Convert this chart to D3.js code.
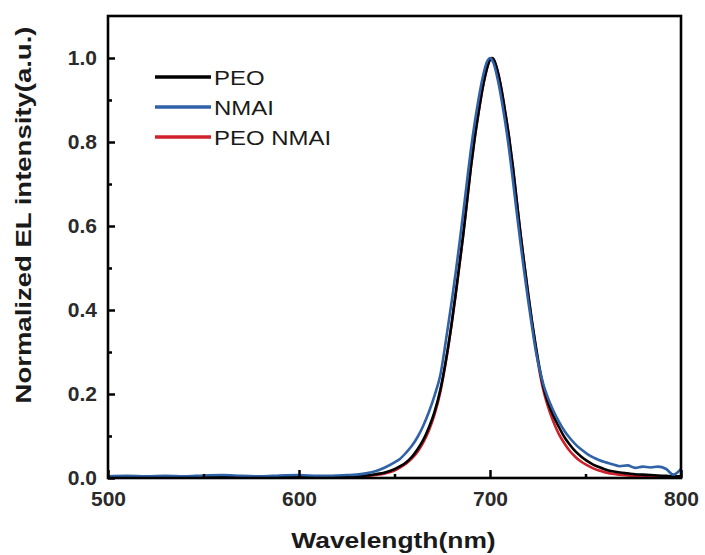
<!DOCTYPE html>
<html><head><meta charset="utf-8">
<script src="https://cdn.jsdelivr.net/npm/d3@7"></script>
<style>body{margin:0;background:#fff;} svg{display:block;font-family:"Liberation Sans",Arial,sans-serif;}</style>
</head><body><svg id="chart" width="705" height="555"></svg>
<script>
const wavelength = [500,510,520,530,540,550,560,570,580,590,600,610,620,
  625,630,635,640,645,650,653,656,659,662,665,668,671,674,677,680,
  682,684,686,688,690,692,694,696,698,700,
  701,
  702,704,706,708,710,712,714,716,718,720,722,724,726,728,730,
  733,736,739,742,745,748,751,754,757,760,764,768,772,776,780,784,788,792,796,800];
const peo = [0.002,0.002,0.002,0.002,0.002,0.002,0.002,0.002,0.002,0.003,0.003,0.002,0.002,
  0.003,0.004,0.006,0.009,0.013,0.021,0.028,0.037,0.05,0.068,0.09,0.12,0.158,0.21,0.282,0.37,
  0.437,0.508,0.58,0.66,0.74,0.81,0.87,0.925,0.968,0.996,
  1.0,
  0.996,0.968,0.925,0.87,0.81,0.74,0.66,0.58,0.508,0.437,0.372,0.313,0.26,0.216,0.185,
  0.15,0.122,0.097,0.078,0.062,0.05,0.04,0.032,0.026,0.021,0.016,0.013,0.011,0.009,0.008,0.007,0.006,0.005,0.004,0.004];
const nmai = [0.004,0.005,0.004,0.005,0.004,0.006,0.007,0.005,0.004,0.006,0.007,0.005,0.006,
  0.007,0.008,0.011,0.016,0.025,0.037,0.046,0.06,0.076,0.097,0.124,0.157,0.197,0.245,0.33,0.422,
  0.488,0.558,0.632,0.708,0.782,0.846,0.902,0.95,0.986,1.0,
  0.996,
  0.986,0.95,0.902,0.846,0.782,0.708,0.632,0.558,0.488,0.422,0.36,0.302,0.258,0.222,0.195,
  0.162,0.135,0.112,0.094,0.079,0.067,0.057,0.049,0.043,0.038,0.033,0.028,0.03,0.024,0.027,0.025,0.027,0.022,0.008,0.022];
const peoNmai = [0.001,0.002,0.001,0.002,0.001,0.002,0.001,0.002,0.001,0.002,0.002,0.001,0.001,
  0.002,0.003,0.004,0.007,0.011,0.018,0.025,0.034,0.046,0.062,0.084,0.113,0.152,0.205,0.28,0.37,
  0.437,0.508,0.58,0.66,0.74,0.81,0.87,0.925,0.968,0.996,
  1.0,
  0.996,0.968,0.925,0.87,0.81,0.74,0.66,0.58,0.508,0.437,0.37,0.31,0.252,0.208,0.175,
  0.136,0.105,0.082,0.063,0.049,0.038,0.03,0.023,0.018,0.014,0.01,0.008,0.006,0.005,0.004,0.004,0.003,0.003,0.002,0.002];
const seriesNames = ["PEO", "NMAI", "PEO NMAI"];
const seriesColors = ["#000000", "#2f62a6", "#d0202a"];
const xTicks = [500, 600, 700, 800];
const xMinor = [550, 650, 750];
const yTicks = [0, 0.2, 0.4, 0.6, 0.8, 1.0];
const yMinor = [0.1, 0.3, 0.5, 0.7, 0.9];

const svg = d3.select("#chart");
const L = 108, R = 681, T = 16, B = 478;
const x = d3.scaleLinear().domain([500, 800]).range([L, R]);
const y = d3.scaleLinear().domain([0, 1.1]).range([B, T]);

svg.append("defs").append("clipPath").attr("id", "clip")
  .append("rect").attr("x", L).attr("y", T).attr("width", R - L).attr("height", B - T);

const seriesData = [peo, nmai, peoNmai];
const line = d3.line().x(d => x(d[0])).y(d => y(d[1])).curve(d3.curveMonotoneX);
const drawOrder = [2, 0, 1];
const gLines = svg.append("g").attr("clip-path", "url(#clip)");
drawOrder.forEach(i => {
  const pts = wavelength.map((w, k) => [w, seriesData[i][k]]);
  gLines.append("path").datum(pts).attr("d", line)
    .attr("fill", "none").attr("stroke", seriesColors[i])
    .attr("stroke-width", 2.6).attr("stroke-linejoin", "round");
});

// axes
const xAxis = svg.append("g").attr("transform", `translate(0,${B})`)
  .call(d3.axisBottom(x).tickValues(xTicks).tickSizeInner(-8).tickSizeOuter(0).tickPadding(13).tickFormat(d3.format("d")));
const xAxisMinor = svg.append("g").attr("transform", `translate(0,${B})`)
  .call(d3.axisBottom(x).tickValues(xMinor).tickSizeInner(-4).tickSizeOuter(0).tickFormat(""));
const yAxis = svg.append("g").attr("transform", `translate(${L},0)`)
  .call(d3.axisLeft(y).tickValues(yTicks).tickSizeInner(-7).tickSizeOuter(0).tickPadding(11).tickFormat(d3.format(".1f")));
const yAxisMinor = svg.append("g").attr("transform", `translate(${L},0)`)
  .call(d3.axisLeft(y).tickValues(yMinor).tickSizeInner(-4).tickSizeOuter(0).tickFormat(""));
[xAxis, xAxisMinor, yAxis, yAxisMinor].forEach(g => {
  g.select(".domain").remove();
  g.selectAll(".tick line").attr("stroke", "#000").attr("stroke-width", 2.5);
  g.selectAll(".tick text").attr("font-size", 21).attr("font-weight", "bold").attr("fill", "#2a2a2a")
    .attr("font-family", '"Liberation Sans", Arial, sans-serif');
});

// frame
svg.append("rect").attr("x", L).attr("y", T).attr("width", R - L).attr("height", B - T)
  .attr("fill", "none").attr("stroke", "#000").attr("stroke-width", 2.6);

// titles
const xt = svg.append("text").attr("x", (L + R) / 2 - 1).attr("y", 548)
  .attr("text-anchor", "middle").attr("font-size", 22).attr("font-weight", "bold")
  .attr("fill", "#1a1a1a").text("Wavelength(nm)");
xt.attr("textLength", xt.node().getComputedTextLength() * 1.2).attr("lengthAdjust", "spacingAndGlyphs");

const yt = svg.append("text").attr("transform", "translate(31,215) rotate(-90)")
  .attr("text-anchor", "middle").attr("font-size", 22).attr("font-weight", "bold")
  .attr("fill", "#1a1a1a").text("Normalized EL intensity(a.u.)");
yt.attr("textLength", yt.node().getComputedTextLength() * 1.25).attr("lengthAdjust", "spacingAndGlyphs");

// legend
const legend = svg.append("g");
seriesNames.forEach((name, i) => {
  const ly = 77 + i * 30;
  legend.append("line").attr("x1", 155).attr("x2", 211).attr("y1", ly).attr("y2", ly)
    .attr("stroke", seriesColors[i]).attr("stroke-width", 3.5);
  const t = legend.append("text").attr("x", 214).attr("y", ly).attr("dy", "0.36em")
    .attr("font-size", 21).attr("fill", "#1a1a1a").text(name);
  t.attr("textLength", t.node().getComputedTextLength() * 1.14).attr("lengthAdjust", "spacingAndGlyphs");
});
</script></body></html>
